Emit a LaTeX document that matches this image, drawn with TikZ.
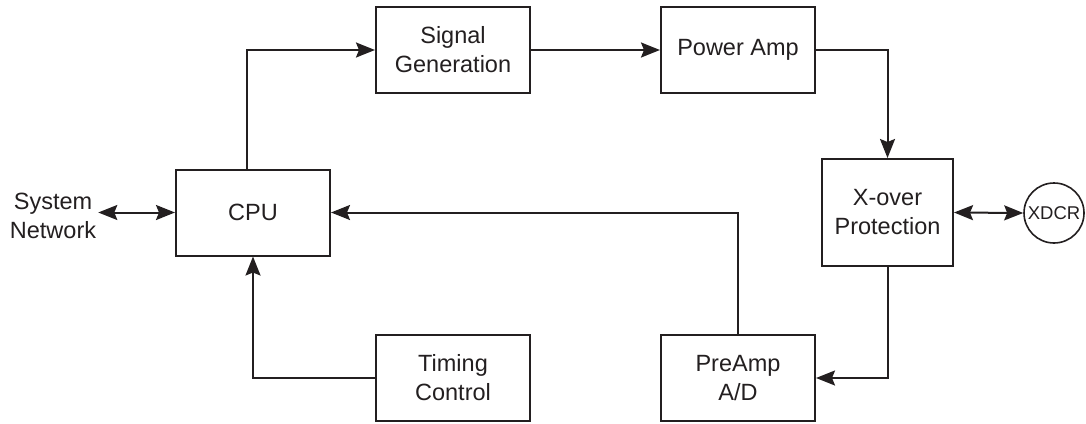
\documentclass[tikz,border=0pt]{standalone}
\usepackage{fontspec}
\setmainfont{Liberation Sans}
\usetikzlibrary{arrows.meta}
\definecolor{ink}{RGB}{35,31,32}
\begin{document}
\begin{tikzpicture}[x=1pt,y=-1pt,
  blk/.style={draw=ink, line width=2pt, minimum width=154pt, minimum height=86pt,
    inner sep=0pt, font=\fontsize{23.5}{29}\selectfont, align=center, text=ink},
  conn/.style={draw=ink, line width=2pt, -{Stealth[length=19pt,width=15pt,inset=3pt]}},
  dconn/.style={draw=ink, line width=2pt, {Stealth[length=19pt,width=15pt,inset=3pt]}-{Stealth[length=19pt,width=15pt,inset=3pt]}}]
\useasboundingbox (0,0) rectangle (1086,423);

\node[blk] (cpu) at (253,212.5) {CPU};
\node[blk] (sg) at (453,50) {Signal\\Generation};
\node[blk] (pa) at (738,50) {Power Amp};
\node[blk, minimum width=131pt, minimum height=107pt] (xo) at (887.5,212.5) {X-over\\Protection};
\node[blk] (tc) at (453,378) {Timing\\Control};
\node[blk] (pre) at (738,378) {PreAmp\\A/D};
\node[draw=ink, line width=1.6pt, circle, minimum size=60pt, inner sep=0pt,
  font=\fontsize{18.5}{22}\selectfont, text=ink] (xdcr) at (1054,213) {XDCR};
\node[font=\fontsize{23.5}{29}\selectfont, align=center, inner sep=2pt, text=ink] (sn) at (53,216) {System\\Network};

\draw[conn] ([xshift=-6pt]cpu.north) |- (sg.west);
\draw[conn] (sg.east) -- (pa.west);
\draw[conn] (pa.east) -| (xo.north);
\draw[conn] (xo.south) |- (pre.east);
\draw[conn] (pre.north) |- (cpu.east);
\draw[conn] (tc.west) -| (cpu.south);
\draw[dconn] (sn.east |- cpu.west) -- (cpu.west);
\draw[dconn] (xo.east) -- (xdcr.west);
\end{tikzpicture}
\end{document}
